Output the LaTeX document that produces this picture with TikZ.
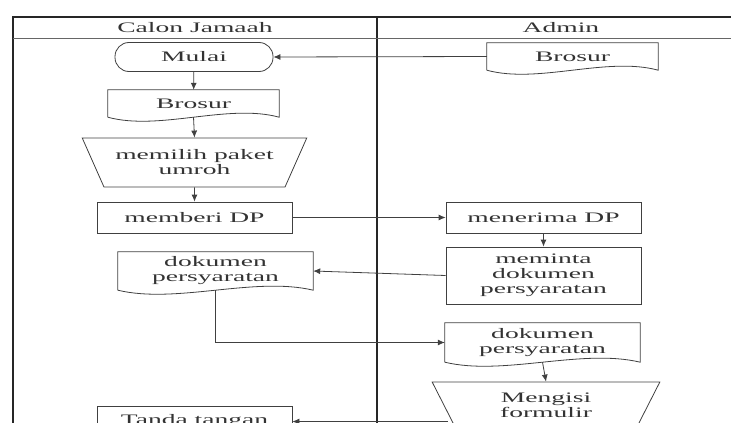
\documentclass[tikz,border=0pt]{standalone}
\usepackage{fontspec}
\setmainfont{Liberation Serif}[FakeStretch=1.9]
\usetikzlibrary{arrows.meta,shapes.geometric,calc}

\tikzset{
  garis/.style={draw=black!75, line width=0.8pt},
  panah/.style={garis, -{Latex[length=7pt,width=6pt]}},
  kotak/.style={garis, rectangle, minimum width=195pt, minimum height=31pt, inner sep=0pt, align=center},
  dok/.style={rectangle, minimum width=#1, inner sep=0pt, align=center},
  dok/.default=195pt,
  trap/.style={garis, trapezium, shape border rotate=180, trapezium stretches=true, inner sep=0pt, align=center},
  lajur/.style={draw=black!85, line width=1.3pt}
}

\newcommand{\dokwave}[1]{%
  \draw[garis] (#1.south west) -- (#1.north west) -- (#1.north east) -- (#1.south east)
    .. controls ($(#1.south east)!0.3!(#1.south west)+(0,-14)$) and ($(#1.south west)!0.3!(#1.south east)+(0,14)$) .. (#1.south west);
}

\begin{document}
\begin{tikzpicture}[x=1pt, y=-1pt, every node/.style={font=\fontsize{14.5}{15}\selectfont, text=black!80}]
\useasboundingbox (0,0) rectangle (731,423);
\clip (0,0) rectangle (731,423);

% swimlanes
\draw[lajur] (13,480) -- (13,17) -- (745,17) -- (745,480);
\draw[lajur] (377,17) -- (377,480);
\draw[draw=black!60, line width=0.8pt] (13,38) -- (745,38);
\node (lajur1) at (195,28) {Calon Jamaah};
\node (lajur2) at (561,28) {Admin};

% calon jamaah
\node[garis, rounded corners=14pt, minimum width=158pt, minimum height=29pt] (mulai) at (194,57) {Mulai};
\node[dok=171pt, minimum height=27pt] (brosurA) at (193.5,103.5) {Brosur};
\node[trap, trapezium angle=53, minimum width=225pt, minimum height=49pt] (pilih) at (194.5,162.5) {memilih paket\\umroh};
\node[kotak] (beriDP) at (194.5,217.5) {memberi DP};
\node[dok, minimum height=38pt] (dokA) at (215.5,271) {dokumen\\persyaratan};
\node[kotak] (ttd) at (194.5,421.5) {Tanda tangan};

% admin
\node[dok=171pt, minimum height=27pt] (brosurB) at (572.5,56.5) {Brosur};
\node[kotak] (terimaDP) at (543.5,217.5) {menerima DP};
\node[kotak, minimum height=57pt] (mintaDok) at (543.5,275.5) {meminta\\dokumen\\persyaratan};
\node[dok, minimum height=39pt] (dokB) at (542.5,342.5) {dokumen\\persyaratan};
\node[trap, trapezium angle=66, minimum width=228pt, minimum height=62pt] (isi) at (546,413) {Mengisi\\formulir\\\phantom{x}};

\foreach \d in {brosurA, brosurB, dokA, dokB}
{
  \dokwave{\d}
}

% alur
\draw[panah] (brosurB.west) -- (mulai.east);
\draw[panah] (mulai) -- (brosurA);
\draw[panah] (brosurA.south) -- (pilih.north);
\draw[panah] (pilih.south) -- (beriDP.north);
\draw[panah] (beriDP) -- (terimaDP);
\draw[panah] (terimaDP) -- (mintaDok);
\draw[panah] (mintaDok.west) -- (dokA.east);
\draw[panah] (dokA.south) |- (dokB.west);
\draw[panah] (dokB.south) -- (isi.north);
\draw[panah] (ttd.east -| isi.west) -- (ttd.east);
\end{tikzpicture}
\end{document}
